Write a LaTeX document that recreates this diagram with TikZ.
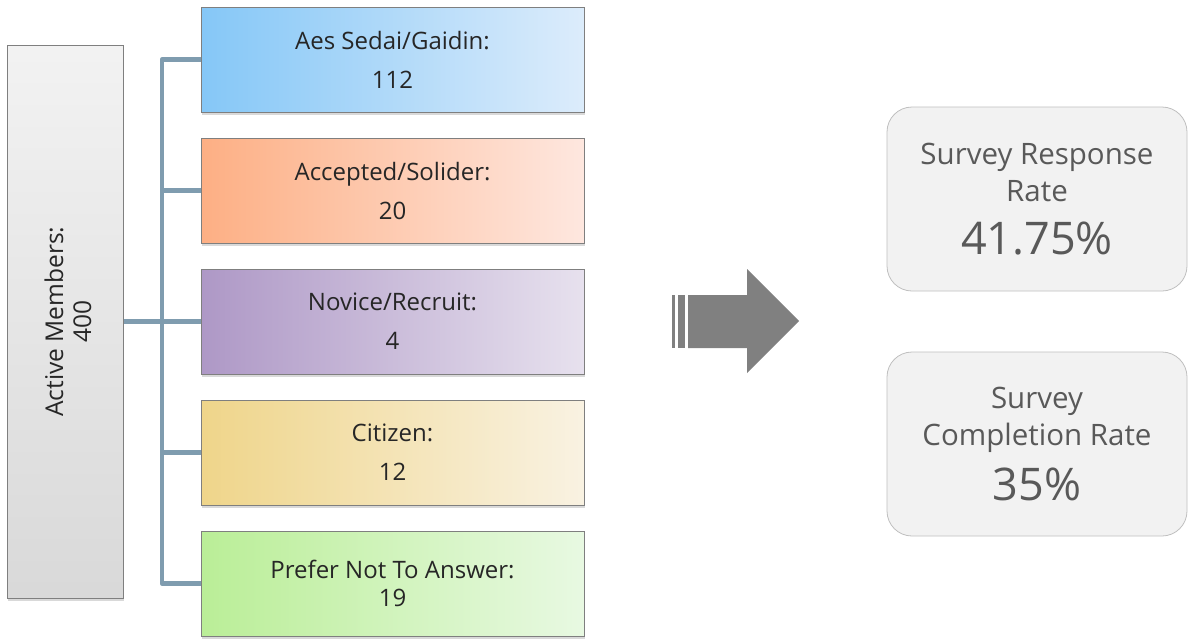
\documentclass[tikz,border=0pt]{standalone}
\usepackage{fontspec}
\setmainfont{Open Sans}
\usetikzlibrary{shadows}
\definecolor{connc}{HTML}{7F9CAF}
\definecolor{boxedge}{HTML}{7F7F7F}
\definecolor{textdark}{HTML}{262626}
\definecolor{textgray}{HTML}{595959}
\definecolor{arrowgray}{HTML}{808080}
\definecolor{blueL}{HTML}{85C7F7}\definecolor{blueR}{HTML}{DCECFB}
\definecolor{orangeL}{HTML}{FDAF84}\definecolor{orangeR}{HTML}{FEE7DF}
\definecolor{purpleL}{HTML}{AE98C6}\definecolor{purpleR}{HTML}{E7E1EE}
\definecolor{yellowL}{HTML}{EFD58A}\definecolor{yellowR}{HTML}{F9F2E2}
\definecolor{greenL}{HTML}{BAEE97}\definecolor{greenR}{HTML}{E8F9E2}
\begin{document}
\begin{tikzpicture}[x=1pt,y=-1pt,
  cbox/.style={draw=boxedge, line width=1pt, minimum width=383pt, minimum height=105pt,
    inner sep=0pt, align=center, text=textdark, font=\fontsize{24}{28}\selectfont,
    drop shadow={shadow xshift=1pt, shadow yshift=-2.5pt, opacity=0.3}},
  rbox/.style={draw=black!25, fill=black!5, line width=0.8pt, rounded corners=25pt,
    minimum width=300pt, minimum height=184pt, inner sep=0pt, align=center,
    text=textgray, font=\fontsize{29.5}{37}\selectfont},
  conn/.style={draw=connc, line width=4.5pt, line join=round}]
\useasboundingbox (0,0) rectangle (1188,641);

% left box
\node[draw=boxedge, line width=1pt, top color=black!5, bottom color=black!15,
  minimum width=116pt, minimum height=553pt, inner sep=0pt,
  drop shadow={shadow xshift=1pt, shadow yshift=-2.5pt, opacity=0.3}] (act) at (65,321.5) {};
\node[rotate=90, align=center, text=textdark, font=\fontsize{24.5}{28}\selectfont] (actt) at ([xshift=3pt]act.center) {Active Members:\\400};

% coloured boxes
\node[cbox, left color=blueL, right color=blueR] (b1) at (392.5,59.5) {Aes Sedai/Gaidin:\\[11pt]112};
\node[cbox, left color=orangeL, right color=orangeR] (b2) at (392.5,190.5) {Accepted/Solider:\\[11pt]20};
\node[cbox, left color=purpleL, right color=purpleR] (b3) at (392.5,321.5) {Novice/Recruit:\\[11pt]4};
\node[cbox, left color=yellowL, right color=yellowR] (b4) at (392.5,452.5) {Citizen:\\[11pt]12};
\node[cbox, left color=greenL, right color=greenR] (b5) at (392.5,583.5) {Prefer Not To Answer:\\19};

% connectors
\coordinate (tr) at (162,321.5);
\draw[conn] (b1.west) -- (b1.west -| tr) -- (b5.west -| tr) -- (b5.west);
\draw[conn] (b2.west) -- (b2.west -| tr);
\draw[conn] (b3.west) -- (b3.west -| tr);
\draw[conn] (b4.west) -- (b4.west -| tr);
\draw[conn] (act.east) -- (act.east -| tr);

% arrow
\fill[arrowgray] (672,295) rectangle (675,348);
\fill[arrowgray] (678,295) rectangle (685,348);
\fill[arrowgray] (688,295) -- (747,295) -- (747,269) -- (799,321) -- (747,373) -- (747,348) -- (688,348) -- cycle;

% result boxes
\node[rbox] (r1) at (1037,199) {Survey Response\\Rate\\[16pt]{\fontsize{45}{48}\selectfont 41.75\%}};
\node[rbox] (r2) at (1037,444) {Survey\\Completion Rate\\[14pt]{\fontsize{45}{48}\selectfont 35\%}};
\end{tikzpicture}
\end{document}
